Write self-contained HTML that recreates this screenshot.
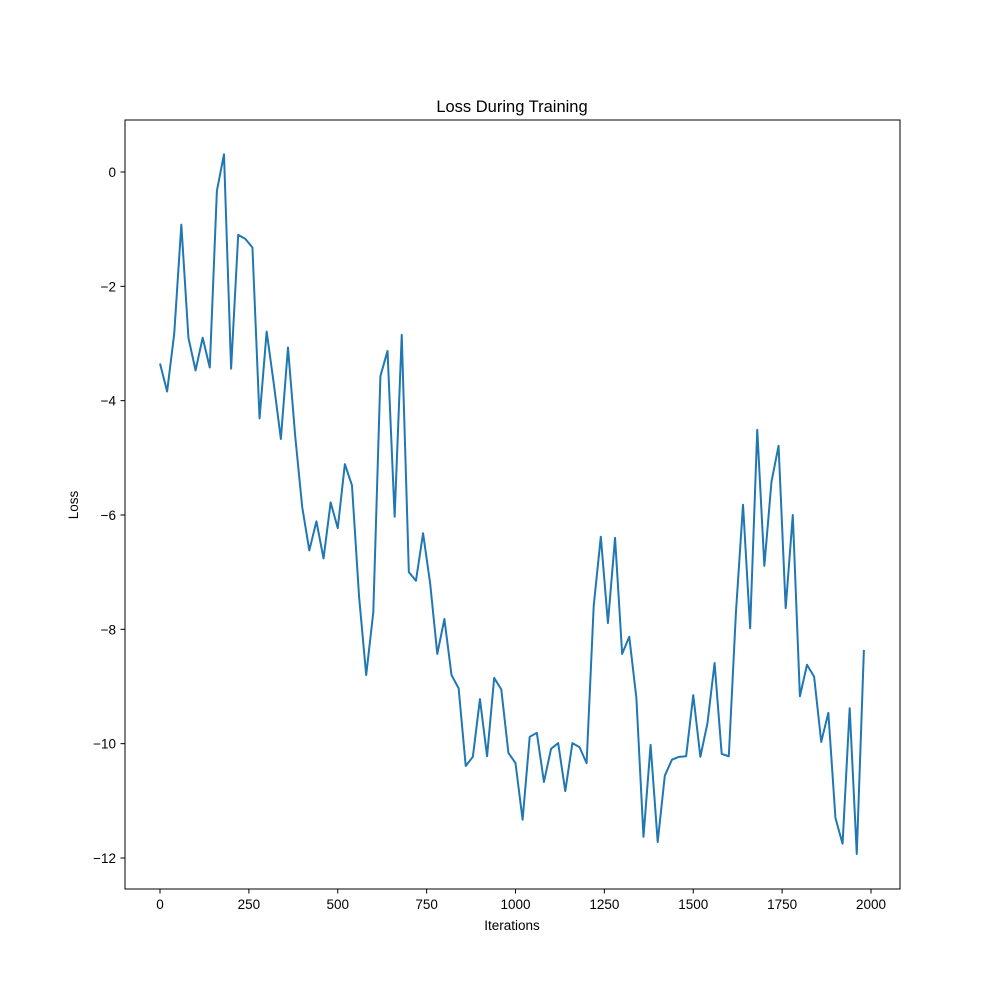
<!DOCTYPE html>
<html><head><meta charset="utf-8"><style>
body{margin:0;background:#fff}
svg{display:block;font-family:"Liberation Sans","DejaVu Sans",sans-serif}
</style></head><body>
<svg id="chart" width="1000" height="1000" viewBox="0 0 1000 1000">
<rect x="0" y="0" width="1000" height="1000" fill="#fff"/>
<text x="512" y="112" font-size="16.5" text-anchor="middle" fill="#000">Loss During Training</text>
<text x="512" y="930" font-size="13.5" text-anchor="middle" fill="#000">Iterations</text>
<text x="78" y="505" font-size="13.5" text-anchor="middle" fill="#000" transform="rotate(-90 78 505)">Loss</text>
<g id="ticks"></g>
<g id="series"></g>
<rect x="125" y="120" width="775" height="769" fill="none" stroke="#000" stroke-width="1"/>
</svg>
<script>
const lossValues = [-3.35,-3.84,-2.83,-0.92,-2.9,-3.47,-2.9,-3.42,-0.33,0.31,
-3.44,-1.1,-1.17,-1.32,-4.31,-2.79,-3.7,-4.67,-3.07,-4.6,
-5.86,-6.62,-6.11,-6.76,-5.78,-6.23,-5.11,-5.48,-7.43,-8.8,
-7.7,-3.57,-3.13,-6.03,-2.85,-7.0,-7.15,-6.32,-7.2,-8.43,
-7.82,-8.8,-9.03,-10.39,-10.23,-9.22,-10.22,-8.85,-9.05,-10.16,
-10.34,-11.33,-9.88,-9.81,-10.67,-10.09,-9.99,-10.83,-9.99,-10.06,
-10.34,-7.59,-6.38,-7.89,-6.4,-8.43,-8.13,-9.2,-11.63,-10.02,
-11.72,-10.56,-10.28,-10.23,-10.22,-9.15,-10.23,-9.64,-8.59,-10.18,
-10.22,-7.71,-5.82,-7.98,-4.51,-6.89,-5.42,-4.79,-7.63,-6.0,
-9.17,-8.62,-8.83,-9.97,-9.46,-11.3,-11.75,-9.38,-11.93,-8.36];
const iterStep = 20;
const xTicks = [0,250,500,750,1000,1250,1500,1750,2000];
const yTicks = [0,-2,-4,-6,-8,-10,-12];

function xs(v){return 160 + v*(871-160)/2000;}
function ys(v){return 172 - v*(858-172)/12;}
const NS="http://www.w3.org/2000/svg";
const tg=document.getElementById('ticks');
xTicks.forEach(t=>{
  const l=document.createElementNS(NS,'line');
  l.setAttribute('x1',xs(t));l.setAttribute('x2',xs(t));l.setAttribute('y1',889);l.setAttribute('y2',893.5);l.setAttribute('stroke','#000');
  
  
  tg.appendChild(l);
  const tx=document.createElementNS(NS,'text');
  tx.setAttribute('x',xs(t));tx.setAttribute('y',909);tx.setAttribute('font-size','13.5');tx.setAttribute('text-anchor','middle');
  tx.textContent=t;
  
  
  tg.appendChild(tx);
});
yTicks.forEach(t=>{
  const l=document.createElementNS(NS,'line');
  l.setAttribute('x1',120.5);l.setAttribute('x2',125);l.setAttribute('y1',ys(t));l.setAttribute('y2',ys(t));l.setAttribute('stroke','#000');
  
  
  tg.appendChild(l);
  const tx=document.createElementNS(NS,'text');
  tx.setAttribute('x',116);tx.setAttribute('y',ys(t)+5);tx.setAttribute('font-size','13.5');tx.setAttribute('text-anchor','end');
  tx.textContent=t<0?'\u2212'+Math.abs(t):String(t);
  
  
  tg.appendChild(tx);
});
const pts=lossValues.map((v,i)=>xs(i*iterStep).toFixed(2)+','+ys(v).toFixed(2)).join(' ');
const pl=document.createElementNS(NS,'polyline');
pl.setAttribute('points',pts);pl.setAttribute('fill','none');pl.setAttribute('stroke','#1f77b4');pl.setAttribute('stroke-width','2');pl.setAttribute('stroke-linejoin','round');


document.getElementById('series').appendChild(pl);
</script>
</body></html>
